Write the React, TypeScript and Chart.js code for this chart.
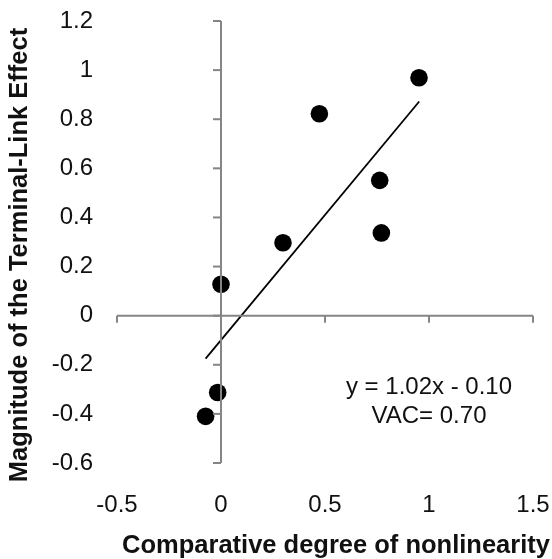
import React, { useEffect, useRef } from "react";
import { Chart, registerables } from "chart.js";

Chart.register(...registerables);

// Data
const pointX = [-0.074, -0.016, 0.0, 0.298, 0.473, 0.763, 0.771, 0.952];
const pointY = [-0.41, -0.313, 0.128, 0.297, 0.822, 0.551, 0.337, 0.969];
const trendX = [-0.074, 0.953];
const trendY = [-0.175, 0.872];
const xTicks = [-0.5, 0, 0.5, 1, 1.5];
const yTicks = [-0.6, -0.4, -0.2, 0, 0.2, 0.4, 0.6, 0.8, 1, 1.2];
const annotationLines = ["y = 1.02x - 0.10", "VAC= 0.70"];
const xTitle = "Comparative degree of nonlinearity";
const yTitle = "Magnitude of the Terminal-Link Effect";

const FONT = "'Liberation Sans', Arial, Helvetica, sans-serif";
const AXIS_COLOR = "#858585";
const TEXT_COLOR = "#111";

const crossAxesPlugin = {
  id: "crossAxes",
  afterDatasetsDraw(chart: any) {
    const { ctx, scales } = chart;
    const xs = scales.x;
    const ys = scales.y;
    const x0 = xs.getPixelForValue(0);
    const y0 = ys.getPixelForValue(0);
    ctx.save();
    ctx.strokeStyle = AXIS_COLOR;
    ctx.lineWidth = 2;
    ctx.beginPath();
    ctx.moveTo(x0, ys.getPixelForValue(yTicks[0]));
    ctx.lineTo(x0, ys.getPixelForValue(yTicks[yTicks.length - 1]));
    ctx.stroke();
    yTicks.forEach((v) => {
      const py = ys.getPixelForValue(v);
      ctx.beginPath();
      ctx.moveTo(x0 - 8, py);
      ctx.lineTo(x0, py);
      ctx.stroke();
    });
    ctx.beginPath();
    ctx.moveTo(xs.getPixelForValue(xTicks[0]), y0);
    ctx.lineTo(xs.getPixelForValue(xTicks[xTicks.length - 1]), y0);
    ctx.stroke();
    xTicks.forEach((v) => {
      const px = xs.getPixelForValue(v);
      ctx.beginPath();
      ctx.moveTo(px, y0);
      ctx.lineTo(px, y0 + 7);
      ctx.stroke();
    });
    ctx.restore();
  },
  afterDraw(chart: any) {
    const { ctx, scales, chartArea } = chart;
    ctx.save();
    // regression annotation
    const cx = scales.x.getPixelForValue(1.0);
    const cy = scales.y.getPixelForValue(-0.29);
    ctx.fillStyle = TEXT_COLOR;
    ctx.font = `24px ${FONT}`;
    ctx.textAlign = "center";
    ctx.textBaseline = "middle";
    annotationLines.forEach((t, i) => ctx.fillText(t, cx, cy + i * 29));
    // axis titles
    ctx.font = `bold 25.5px ${FONT}`;
    ctx.textBaseline = "alphabetic";
    ctx.fillText(xTitle, chartArea.left + 219, chartArea.bottom + 89.5);
    ctx.translate(27, chartArea.top + 234);
    ctx.rotate(-Math.PI / 2);
    ctx.fillText(yTitle, 0, 0);
    ctx.restore();
  },
};

export default function App() {
  const ref = useRef<HTMLCanvasElement | null>(null);
  useEffect(() => {
    if (!ref.current) return;
    const chart = new Chart(ref.current, {
      type: "scatter",
      data: {
        datasets: [
          {
            type: "line",
            data: trendX.map((x, i) => ({ x, y: trendY[i] })),
            borderColor: "#000",
            borderWidth: 1.8,
            pointRadius: 0,
            fill: false,
          } as any,
          {
            type: "scatter",
            data: pointX.map((x, i) => ({ x, y: pointY[i] })),
            backgroundColor: "#000",
            borderColor: "#000",
            borderWidth: 0,
            pointRadius: 8.8,
            pointHoverRadius: 8.8,
          },
        ],
      },
      options: {
        animation: false,
        responsive: false,
        maintainAspectRatio: false,
        layout: { padding: { left: 0, top: 21, right: 19, bottom: 0 } },
        plugins: { legend: { display: false }, tooltip: { enabled: false } },
        scales: {
          x: {
            type: "linear",
            min: -0.5,
            max: 1.5,
            afterBuildTicks: (s: any) => {
              s.ticks = xTicks.map((v) => ({ value: v }));
            },
            afterFit: (s: any) => {
              s.height = 96;
              s.paddingLeft = 0;
              s.paddingRight = 0;
            },
            grid: { display: false, drawTicks: false },
            border: { display: false },
            ticks: {
              padding: 28,
              color: TEXT_COLOR,
              font: { family: FONT, size: 24 },
              callback: (v: any) => String(v),
            },
            title: { display: false },
          },
          y: {
            type: "linear",
            min: -0.6,
            max: 1.2,
            afterBuildTicks: (s: any) => {
              s.ticks = yTicks.map((v) => ({ value: v }));
            },
            afterFit: (s: any) => {
              s.width = 117;
              s.paddingTop = 0;
              s.paddingBottom = 0;
            },
            grid: { display: false, drawTicks: false },
            border: { display: false },
            ticks: {
              padding: 24,
              color: TEXT_COLOR,
              font: { family: FONT, size: 24 },
              callback: (v: any) => String(Math.round(v * 10) / 10),
            },
            title: { display: false },
          },
        },
      },
      plugins: [crossAxesPlugin],
    });
    return () => chart.destroy();
  }, []);
  return (
    <div style={{ position: "absolute", left: 0, top: 0, width: 552, height: 559, background: "#fff" }}>
      <canvas ref={ref} width={552} height={559} style={{ display: "block" }} />
    </div>
  );
}
